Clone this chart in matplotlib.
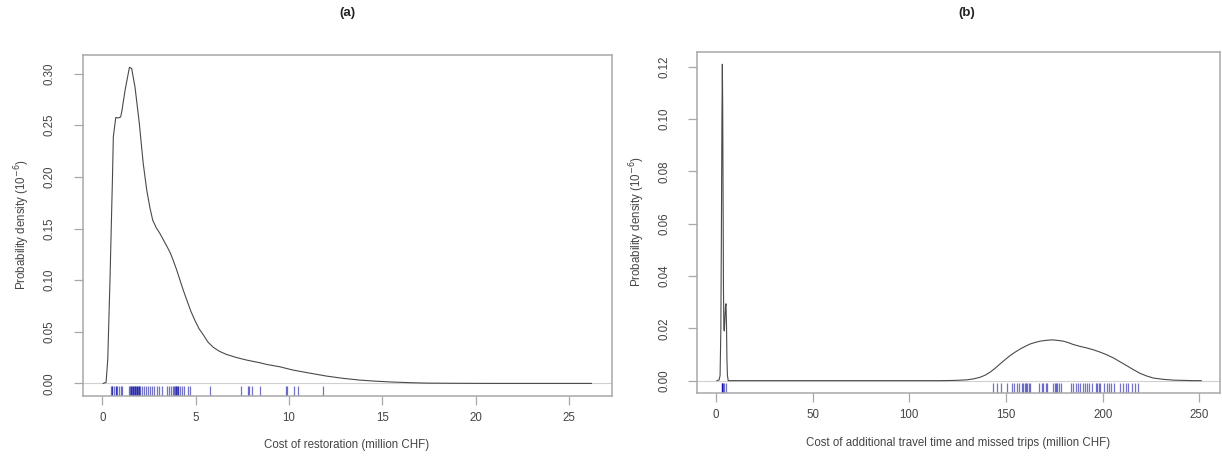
import numpy as np
import matplotlib.pyplot as plt
from matplotlib import transforms

plt.rcParams['font.family'] = ['Liberation Sans', 'DejaVu Sans']

# panel (a): density of restoration cost
xa = [0.05, 0.2, 0.29, 0.41, 0.54, 0.59, 0.72, 0.85, 0.98, 1.04, 1.22, 1.45, 1.57,
      1.75, 1.98, 2.19, 2.38, 2.55, 2.70, 2.88, 3.09, 3.30, 3.48, 3.65, 3.80, 3.98,
      4.16, 4.34, 4.52, 4.74, 4.96, 5.18, 5.41, 5.66, 5.94, 6.28, 6.66, 7.20, 7.73,
      8.44, 8.80, 9.51, 10.22, 11.1, 12.01, 12.9, 13.8, 14.7, 15.58, 16.5, 17.37,
      19.0, 21.0, 23.5, 26.2]
da = [0.0, 0.001, 0.023, 0.100, 0.197, 0.239, 0.2575, 0.257, 0.258, 0.263, 0.284,
      0.306, 0.305, 0.287, 0.252, 0.213, 0.187, 0.170, 0.158, 0.151, 0.145, 0.138,
      0.132, 0.126, 0.119, 0.110, 0.100, 0.090, 0.081, 0.070, 0.061, 0.053, 0.047,
      0.040, 0.035, 0.031, 0.028, 0.025, 0.0226, 0.020, 0.0184, 0.0161, 0.0129,
      0.0100, 0.0071, 0.0049, 0.0032, 0.0021, 0.0013, 0.0007, 0.0003, 0.0001,
      0.0, 0.0, 0.0]
rug_a = [0.47, 0.50, 0.54, 0.61, 0.72, 0.75, 0.79, 0.91, 0.98, 1.07, 1.45, 1.48,
         1.52, 1.55, 1.59, 1.62, 1.66, 1.70, 1.73, 1.77, 1.80, 1.84, 1.88, 1.91,
         1.95, 1.98, 2.02, 2.11, 2.21, 2.32, 2.45, 2.57, 2.68, 2.79, 2.91, 3.02,
         3.18, 3.48, 3.57, 3.66, 3.78, 3.86, 3.90, 3.93, 3.96, 4.00, 4.03, 4.07,
         4.16, 4.25, 4.37, 4.57, 4.69, 5.77, 7.41, 7.78, 7.87, 8.00, 8.44, 9.82,
         9.91, 10.28, 10.49, 11.83]

# panel (b): density of travel time cost
xb = [0.5, 1.6, 2.1, 2.5, 2.8, 3.05, 3.27, 3.45, 3.65, 3.85, 4.05, 4.3, 4.6, 4.9,
      5.15, 5.4, 5.65, 5.9, 6.3, 20, 60, 100, 115.9, 124.0, 129.7, 133.3, 136.6,
      139.2, 141.7, 144.3, 146.9, 149.5, 152.1, 154.7, 157.3, 159.9, 162.4, 165.0,
      167.6, 170.6, 173.7, 176.7, 179.7, 182.3, 184.9, 188.3, 191.8, 195.2, 198.7,
      202.1, 205.5, 209.0, 212.5, 215.9, 219.3, 222.7, 226.2, 231.4, 236.6, 246.9,
      251.0]
db = [0.0, 0.0003, 0.002, 0.02, 0.06, 0.10, 0.121, 0.105, 0.07, 0.035, 0.02, 0.019,
      0.024, 0.0285, 0.0294, 0.022, 0.008, 0.002, 0.0, 0.0, 0.0, 0.0, 0.0, 0.0001,
      0.0003, 0.0007, 0.0013, 0.0021, 0.0032, 0.0047, 0.0064, 0.0080, 0.0096, 0.0109,
      0.0121, 0.0131, 0.0140, 0.0146, 0.0151, 0.0154, 0.0156, 0.0154, 0.0151,
      0.0145, 0.0138, 0.0131, 0.0125, 0.0118, 0.0109, 0.0099, 0.0087, 0.0072,
      0.0057, 0.0042, 0.0028, 0.0018, 0.0010, 0.0005, 0.0002, 0.0, 0.0]
rug_b = [2.9, 3.1, 3.3, 3.6, 4.0, 5.1, 143.5, 145.2, 147.4, 150.4, 153.3, 154.3,
         155.5, 156.9, 158.3, 159.0, 159.7, 160.4, 161.1, 161.8, 162.4, 167.3,
         168.5, 169.3, 170.7, 171.4, 174.5, 175.2, 175.9, 176.6, 177.3, 178.5,
         183.7, 184.9, 186.1, 187.1, 188.5, 189.9, 190.7, 191.8, 193.1, 194.5,
         196.6, 197.3, 198.0, 198.7, 200.7, 202.1, 203.3, 204.3, 205.9, 209.0,
         210.4, 211.8, 213.3, 215.0, 216.8, 218.1]

fig = plt.figure(figsize=(12.22, 4.67), dpi=100)
axa = fig.add_axes([0.0677, 0.1520, 0.4331, 0.7302])
axb = fig.add_axes([0.5706, 0.1578, 0.4278, 0.7315])

def panel(ax, x, d, rug, xlim, ylim, xt, yt):
    ax.axhline(0, color='#d0d0d0', lw=0.8, zorder=1)
    ax.plot(x, d, color='#4a4a4a', lw=0.8, zorder=2)
    tr = transforms.blended_transform_factory(ax.transData, ax.transAxes)
    for r in rug:
        ax.plot([r, r], [0, 0.03], transform=tr, color='#0000a0', alpha=0.55,
                lw=0.9, solid_capstyle='butt')
    ax.set_xlim(xlim)
    ax.set_ylim(ylim)
    ax.set_xticks(xt)
    ax.set_yticks(yt)
    ax.set_yticklabels(['%.2f' % v for v in yt], rotation=90, va='center')
    for s in ax.spines.values():
        s.set_color('#a8a8a8')
        s.set_linewidth(1.1)
    ax.tick_params(axis='both', colors='#a8a8a8', labelcolor='#444444',
                   labelsize=8.3, length=6.5, width=0.9)
    ax.tick_params(axis='y', pad=13)
    ax.tick_params(axis='x', pad=5)

panel(axa, xa, da, rug_a, (-1.05, 27.3), (-0.0122, 0.318),
      [0, 5, 10, 15, 20, 25], [0.0, 0.05, 0.10, 0.15, 0.20, 0.25, 0.30])
panel(axb, xb, db, rug_b, (-9.7, 260.7), (-0.00484, 0.1258),
      [0, 50, 100, 150, 200, 250], [0.0, 0.02, 0.04, 0.06, 0.08, 0.10, 0.12])

fig.text(347 / 1222, 1 - 13 / 467, '(a)', ha='center', va='center',
         fontsize=9.5, fontweight='bold', color='#222222')
fig.text(967 / 1222, 1 - 13 / 467, '(b)', ha='center', va='center',
         fontsize=9.5, fontweight='bold', color='#222222')
fig.text(347 / 1222, 1 - 445 / 467, 'Cost of restoration (million CHF)',
         ha='center', va='center', fontsize=8.3, color='#444444')
fig.text(958 / 1222, 1 - 443 / 467,
         'Cost of additional travel time and missed trips (million CHF)',
         ha='center', va='center', fontsize=8.3, color='#444444')
ylab = r'Probability density (10$^{-6}$)'
fig.text(22 / 1222, 1 - 225 / 467, ylab, rotation=90, ha='center', va='center',
         fontsize=8.3, color='#444444')
fig.text(637 / 1222, 1 - 222 / 467, ylab, rotation=90, ha='center', va='center',
         fontsize=8.3, color='#444444')

fig.savefig('out.png', dpi=100)
